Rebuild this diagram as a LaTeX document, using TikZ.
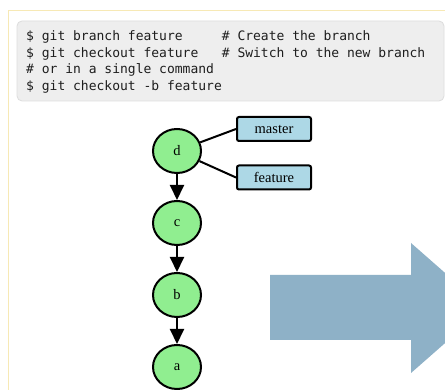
\documentclass[tikz,border=0pt]{standalone}
\usepackage{fontspec}
\setmainfont{Liberation Serif}
\newfontfamily\codefont{DejaVu Sans Mono}
\usepackage{tikz}
\usetikzlibrary{arrows.meta}
\usetikzlibrary{positioning}
\usetikzlibrary{shapes.geometric}
\definecolor{commitgreen}{HTML}{90EE90}
\definecolor{branchblue}{HTML}{ADD8E6}
\definecolor{codegray}{HTML}{EEEEEE}
\definecolor{codeedge}{HTML}{DDDDDD}
\definecolor{codetext}{HTML}{1E1E1E}
\definecolor{framebeige}{HTML}{F7E9B5}
\definecolor{bigarrow}{HTML}{8EB1C7}

\begin{document}
\begin{tikzpicture}[x=1pt,y=-1pt,
  commit/.style={ellipse,draw=black,line width=2pt,fill=commitgreen,minimum width=48pt,minimum height=44pt,inner sep=0pt,font=\fontsize{14.5}{16}\selectfont},
  branch/.style={rectangle,rounded corners=2pt,draw=black,line width=2pt,fill=branchblue,minimum width=74pt,minimum height=24pt,inner sep=0pt,font=\fontsize{14.5}{16}\selectfont},
  parent/.style={line width=2pt,-{Triangle[length=15pt,width=14pt]}},
  codeline/.style={anchor=base west,inner sep=0pt,text=codetext,font=\codefont\fontsize{13}{15}\selectfont}]
  \clip (0,0) rectangle (445,390);
  \fill[white] (0,0) rectangle (445,390);
  % page frame and code block
  \draw[framebeige,line width=1pt] (8,400) -- (8,11) -- (450,11);
  \draw[codeedge,fill=codegray,rounded corners=5pt,line width=0.8pt] (17,21) rectangle (444,101);
  \node[codeline] (l1) at (26,41) {\$~git~branch~feature~~~~~\#~Create~the~branch};
  \node[codeline] (l2) at (26,57.5) {\$~git~checkout~feature~~~\#~Switch~to~the~new~branch};
  \node[codeline] (l3) at (26,74) {\#~or~in~a~single~command};
  \node[codeline] (l4) at (26,90.5) {\$~git~checkout~-b~feature};
  % commits
  \node[commit] (d) at (177,151) {d};
  \node[commit,below=26pt of d] (c) {c};
  \node[commit,below=26pt of c] (b) {b};
  \node[commit,below=26pt of b] (a) {a};
  \draw[parent] (d) -- (c);
  \draw[parent] (c) -- (b);
  \draw[parent] (b) -- (a);
  % branches
  \node[branch] (master) at (274,129) {master};
  \node[branch] (feature) at (274,177.5) {feature};
  \draw[line width=2pt] (d) -- (master.west);
  \draw[line width=2pt] (d) -- (feature.west);
  % big arrow
  \fill[bigarrow] (270,275) -- (411,275) -- (411,243) -- (485,308) -- (411,373) -- (411,340) -- (270,340) -- cycle;
\end{tikzpicture}
\end{document}
